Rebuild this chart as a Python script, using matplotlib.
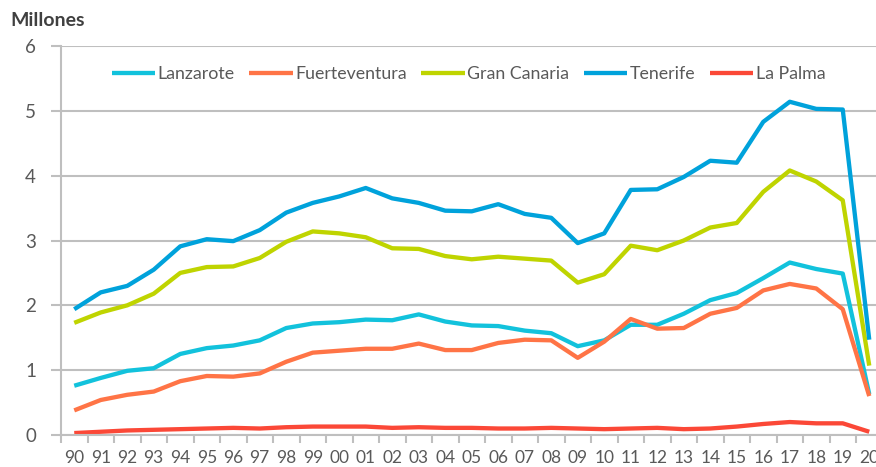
import numpy as np
import matplotlib
matplotlib.use("Agg")
import matplotlib.pyplot as plt

years = ["90", "91", "92", "93", "94", "95", "96", "97", "98", "99", "00", "01", "02", "03", "04",
         "05", "06", "07", "08", "09", "10", "11", "12", "13", "14", "15", "16", "17", "18", "19", "20"]

lanzarote = [0.76, 0.88, 0.99, 1.03, 1.25, 1.34, 1.38, 1.46, 1.65, 1.72, 1.74, 1.78, 1.77, 1.86, 1.75,
             1.69, 1.68, 1.61, 1.57, 1.37, 1.46, 1.70, 1.70, 1.87, 2.08, 2.19, 2.42, 2.66, 2.56, 2.49, 0.63]
fuerteventura = [0.38, 0.54, 0.62, 0.67, 0.83, 0.91, 0.90, 0.95, 1.13, 1.27, 1.30, 1.33, 1.33, 1.41, 1.31,
                 1.31, 1.42, 1.47, 1.46, 1.19, 1.44, 1.79, 1.64, 1.65, 1.87, 1.96, 2.23, 2.33, 2.26, 1.94, 0.60]
gran_canaria = [1.73, 1.89, 2.00, 2.18, 2.50, 2.59, 2.60, 2.73, 2.98, 3.14, 3.11, 3.05, 2.88, 2.87, 2.76,
                2.71, 2.75, 2.72, 2.69, 2.35, 2.48, 2.92, 2.85, 3.00, 3.20, 3.27, 3.75, 4.08, 3.91, 3.62, 1.07]
tenerife = [1.94, 2.20, 2.30, 2.55, 2.91, 3.02, 2.99, 3.16, 3.43, 3.58, 3.68, 3.81, 3.65, 3.58, 3.46,
            3.45, 3.56, 3.41, 3.35, 2.96, 3.11, 3.78, 3.79, 3.98, 4.23, 4.20, 4.83, 5.14, 5.03, 5.02, 1.47]
la_palma = [0.03, 0.05, 0.07, 0.08, 0.09, 0.10, 0.11, 0.10, 0.12, 0.13, 0.13, 0.13, 0.11, 0.12, 0.11,
            0.11, 0.10, 0.10, 0.11, 0.10, 0.09, 0.10, 0.11, 0.09, 0.10, 0.13, 0.17, 0.20, 0.18, 0.18, 0.05]

series = [("Lanzarote", lanzarote, "#12c2dc"),
          ("Fuerteventura", fuerteventura, "#ff7446"),
          ("Gran Canaria", gran_canaria, "#bfd400"),
          ("Tenerife", tenerife, "#00a2db"),
          ("La Palma", la_palma, "#fb4837")]

plt.rcParams["font.family"] = ["Lato", "DejaVu Sans"]
grey = "#595959"
gridc = "#bfbfbf"

fig = plt.figure(figsize=(8.76, 4.67), dpi=100, facecolor="white")
ax = fig.add_axes([61 / 876, 32 / 467, 821.5 / 876, 389 / 467])

x = np.arange(len(years))
for name, vals, c in series:
    ax.plot(x, vals, color=c, lw=3.1, label=name, solid_joinstyle="round", solid_capstyle="butt")

ax.set_xlim(-0.5, len(years) - 0.5)
ax.set_ylim(0, 6)
ax.set_yticks(range(0, 7))
ax.set_xticks(x)
ax.set_xticklabels(years)
ax.set_xticks(np.arange(-0.5, len(years), 1), minor=True)
ax.tick_params(axis="x", which="major", length=0, pad=11, labelsize=12.5, labelcolor=grey)
ax.tick_params(axis="x", which="minor", length=6, width=1.5, color=gridc)
ax.tick_params(axis="y", length=7, width=1.5, color=gridc, pad=11, labelsize=13.5, labelcolor=grey)
ax.grid(axis="y", color=gridc, lw=1.5)
ax.set_axisbelow(True)
for s in ("top", "right"):
    ax.spines[s].set_visible(False)
for s in ("left", "bottom"):
    ax.spines[s].set_color(gridc)
    ax.spines[s].set_linewidth(1.5)

ax.legend(loc="upper left", bbox_to_anchor=(0.042, 0.99), ncol=5, frameon=False,
          fontsize=12.8, handlelength=2.45, handletextpad=0.15, columnspacing=0.8,
          labelcolor=grey)

fig.text(10 / 876, 1 - 20 / 467, "Millones", fontsize=14, fontweight="bold", color="#404040",
         va="center", ha="left")

fig.savefig("out.png", dpi=100)
